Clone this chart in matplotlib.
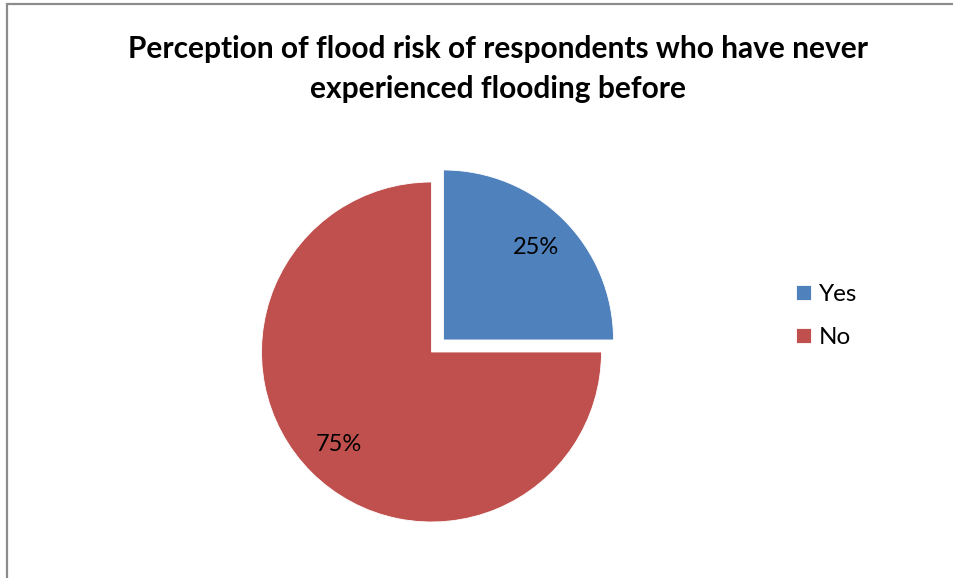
import matplotlib.pyplot as plt
from matplotlib.patches import Rectangle

# --- data ---
labels = ['Yes', 'No']
shares = [25, 75]
colors = ['#4F81BD', '#C0504D']
title = 'Perception of flood risk of respondents who have never\nexperienced flooding before'

plt.rcParams['font.family'] = ['Lato', 'DejaVu Sans']

W, H = 954, 578
fig = plt.figure(figsize=(W / 100, H / 100), dpi=100)

# outer chart frame (only top and left edge visible in the crop)
fig.patches.append(Rectangle((7.5 / W, -0.1), 1.2, (H - 4.5) / H + 0.1,
                             transform=fig.transFigure, fill=False,
                             edgecolor='#8c8c8c', linewidth=1.6))

# pie axes: centre (431.5, 352) px, radius 170 px
cx, cy, R = 431.5, H - 352, 170
ax = fig.add_axes([(cx - R) / W, (cy - R) / H, 2 * R / W, 2 * R / H])
wedges, texts, autotexts = ax.pie(shares, colors=colors, startangle=90, counterclock=False,
                                  explode=[0.1, 0], radius=1, autopct='%d%%', pctdistance=0.77,
                                  wedgeprops=dict(edgecolor='white', linewidth=0.6),
                                  textprops=dict(fontsize=17, color='black'))
for w in wedges:
    w.set_clip_on(False)
ax.set_xlim(-1, 1)
ax.set_ylim(-1, 1)
ax.axis('off')

fig.text(498 / W, 1 - 69 / H, title, ha='center', va='center', fontsize=21.5,
         fontweight='bold', linespacing=1.5)

fig.legend(wedges, labels, loc='center left', bbox_to_anchor=(796 / W, 1 - 316 / H),
           frameon=False, fontsize=17.5, handlelength=0.6, handleheight=0.6,
           handletextpad=0.35, labelspacing=0.9, borderpad=0, borderaxespad=0)

fig.savefig('out.png', dpi=100)
